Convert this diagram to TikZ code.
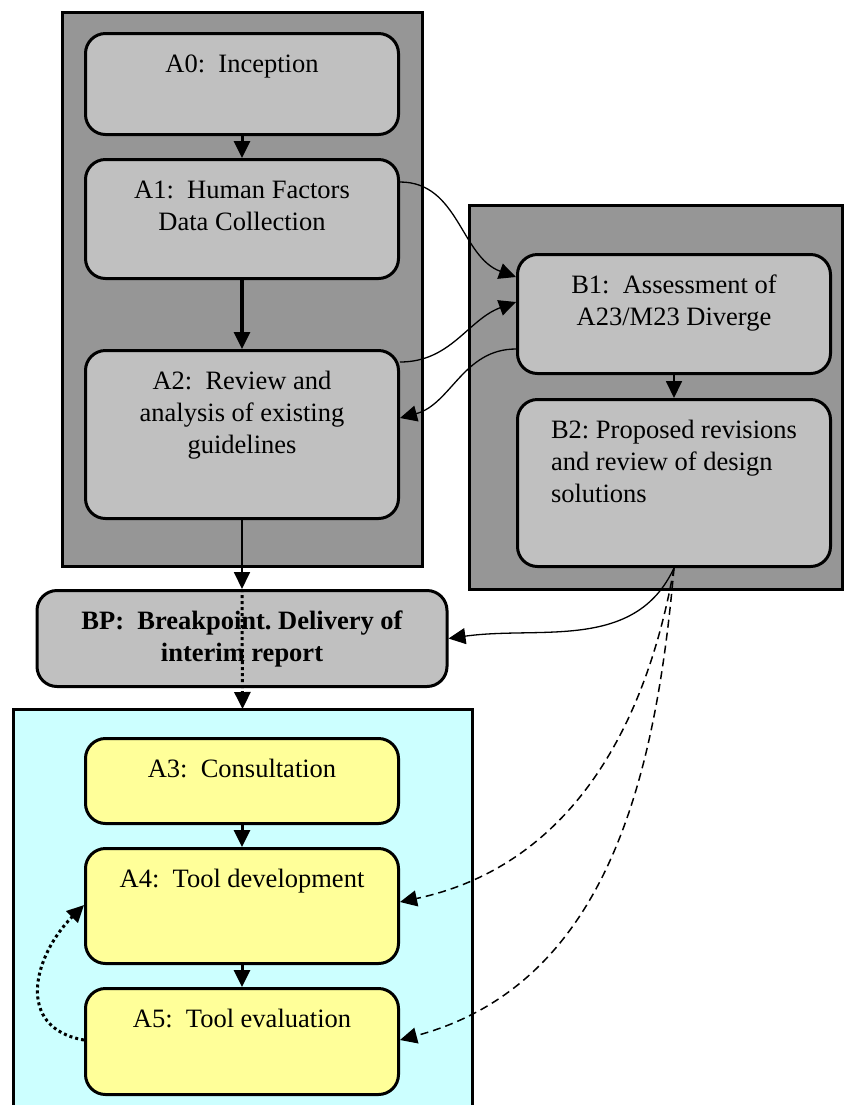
\documentclass[tikz,border=0pt]{standalone}
\usepackage{fontspec}
\setmainfont{Liberation Serif}
\usepackage{tikz}
\usetikzlibrary{arrows.meta}
\usetikzlibrary{scopes}

\definecolor{panelgrey}{RGB}{150,150,150}
\definecolor{boxgrey}{RGB}{192,192,192}
\definecolor{toolcyan}{RGB}{204,255,255}
\definecolor{toolyellow}{RGB}{255,255,153}

% stacked lines inside a box, first baseline on top
\newcommand{\boxtext}[1]{\begin{tabular}[t]{@{}c@{}}#1\end{tabular}}
\newcommand{\boxtextl}[1]{\begin{tabular}[t]{@{}l@{}}#1\end{tabular}}

\begin{document}
\begin{tikzpicture}[x=0.5pt,y=-0.5pt]
\useasboundingbox (0,0) rectangle (845,1105);

% work package panels
\begin{scope}[every node/.style={draw,line width=1.5pt,inner sep=0pt,outer sep=0pt,anchor=north west}]
    \node[fill=panelgrey,minimum width=180pt,minimum height=277pt] (PA) at (62,12) {};
    \node[fill=panelgrey,minimum width=186.5pt,minimum height=192pt] (PB) at (469,205) {};
    \node[fill=toolcyan,minimum width=229.5pt,minimum height=203pt] (PT) at (13,709) {};
\end{scope}

\begin{scope}[every node/.style={draw,line width=1.5pt,rounded corners=10pt,fill=boxgrey,
              minimum width=156.5pt,inner sep=0pt,text height=19.5pt,anchor=north,
              font=\fontsize{13.25}{16}\selectfont}]
    \node[text depth=31pt] (A0) at (242,32) {A0:\ \ Inception};
    \node[text depth=40pt] (A1) at (242,158) {\boxtext{A1:\ \ Human Factors\\Data Collection}};
    \node[text depth=64.5pt] (A2) at (242,349) {\boxtext{A2:\ \ Review and\\analysis of existing\\guidelines}};
    \node[text depth=40pt] (B1) at (674,253) {\boxtext{B1:\ \ Assessment of\\A23/M23 Diverge}};
    \node[text depth=64pt] (B2) at (674,398) {\boxtextl{B2:\ Proposed revisions\\and review of design\\solutions}};
    \node[text depth=28.5pt,minimum width=205pt,font=\fontsize{13.25}{16}\selectfont\bfseries] (BP) at (242,589)
        {\boxtext{BP:\ \ Breakpoint.\ Delivery of\\interim report}};
    \node[text depth=23pt,fill=toolyellow] (A3) at (242,737) {A3:\ \ Consultation};
    \node[text depth=38pt,fill=toolyellow] (A4) at (242,847) {A4:\ \ Tool development};
    \node[text depth=33.5pt,fill=toolyellow] (A5) at (242,987) {A5:\ \ Tool evaluation};
\end{scope}

\begin{scope}[>={Triangle[length=8.5pt,width=8pt]},
              % every edge/.style={draw,thick},
              every edge/.style={draw,line width=0.65pt}]
    \path [->] (A0) edge[line width=1.5pt] (A1);
    \path [->] (A1) edge[line width=1.6pt] (A2);
    \path [->] (A2) edge[line width=0.9pt] (BP);
    \path [->] (B1) edge[line width=0.9pt] (B2);
    \path [->] (A3) edge[line width=1.5pt] (A4);
    \path [->] (A4) edge[line width=1.5pt] (A5);
    \path [->] ([yshift=-12pt]A1.north east) edge[out=0,in=160] ([yshift=-12pt]B1.north west);
    \path [->] ([yshift=-6.5pt]A2.north east) edge[out=0,in=200] ([yshift=-24.5pt]B1.north west);
    \path [->] ([yshift=-48pt]B1.north west) edge[out=180,in=15] ([yshift=-34.5pt]A2.north east);
    \path [->] (B2.south) edge[out=-115,in=8] (BP.east);
    \path [->] (B2.south) edge[dash pattern=on 4pt off 2.5pt,line width=0.75pt,out=-100,in=12] ([yshift=-27.5pt]A4.north east);
    \path [->] (B2.south) edge[dash pattern=on 4pt off 2.5pt,line width=0.75pt,out=-95,in=15] ([yshift=-26.5pt]A5.north east);
    \path [->] (BP.north) edge[line width=1.5pt,dash pattern=on 1.5pt off 1.5pt] (PT.north);
    \path [->] ([yshift=-26.5pt]A5.north west) edge[line width=1.5pt,dash pattern=on 1.5pt off 1.5pt,
               out=170,in=-135,looseness=1.35] ([yshift=-29pt]A4.north west);
\end{scope}
\end{tikzpicture}
\end{document}
